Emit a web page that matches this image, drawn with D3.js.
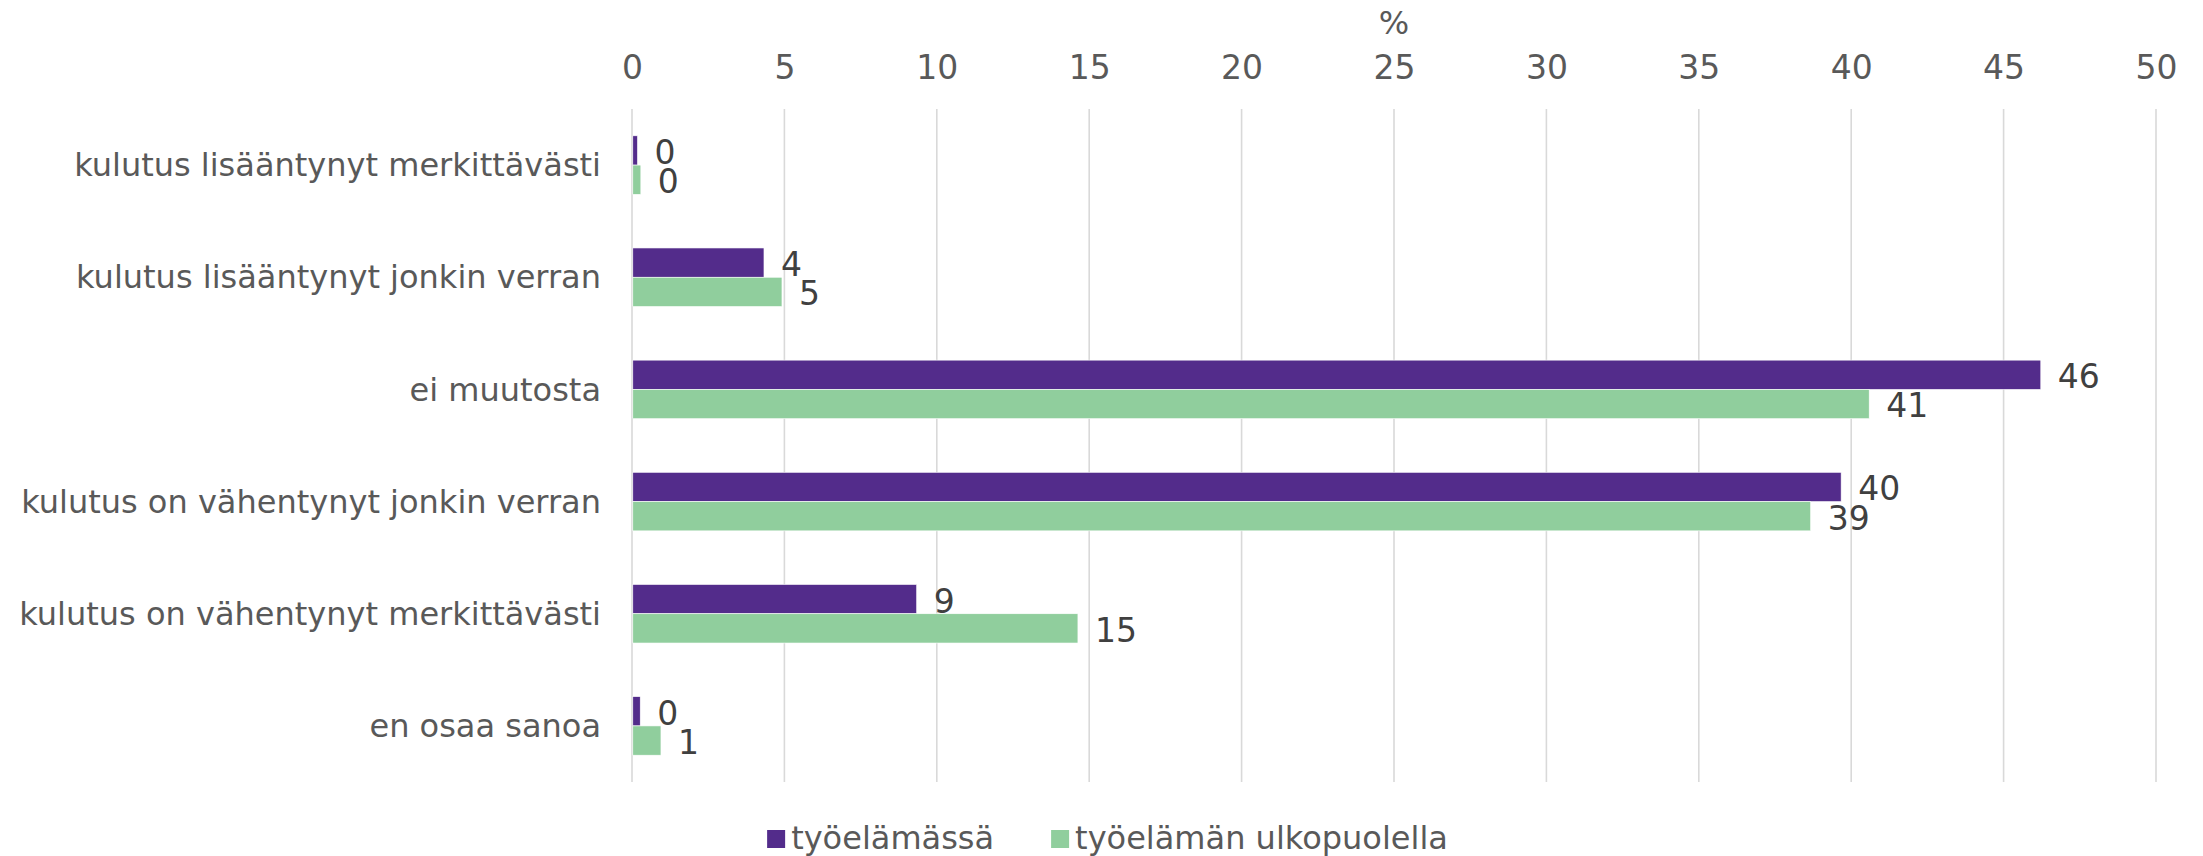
<!DOCTYPE html>
<html>
<head>
<meta charset="utf-8">
<script src="https://cdn.jsdelivr.net/npm/d3@7"></script>
<style>
    body { margin: 0; background: #fff; }
    text { font-family: "DejaVu Sans", Verdana, sans-serif; }
</style>
</head>
<body>
<svg id="chartSVG"></svg>
<script>

// data
var categories = [
    "kulutus lisääntynyt merkittävästi",
    "kulutus lisääntynyt jonkin verran",
    "ei muutosta",
    "kulutus on vähentynyt jonkin verran",
    "kulutus on vähentynyt merkittävästi",
    "en osaa sanoa"
];
var seriesNames = ["työelämässä", "työelämän ulkopuolella"];
var tyoelamassa = [0.18, 4.33, 46.22, 39.67, 9.34, 0.27];
var ulkopuolella = [0.29, 4.92, 40.59, 38.67, 14.63, 0.95];
var xTicks = [0, 5, 10, 15, 20, 25, 30, 35, 40, 45, 50];
var axisTitle = "%";

var colors = ["#532c8b", "#90ce9d"];

var width = 2203,
    height = 856;
var margin = { top: 109, right: 47, bottom: 74, left: 632 };

var svg = d3.select("#chartSVG")
    .attr("width", width)
    .attr("height", height);

var x = d3.scaleLinear()
    .domain([0, 50])
    .range([margin.left, width - margin.right]);

var y = d3.scaleBand()
    .domain(categories)
    .range([margin.top, height - margin.bottom])
    .paddingInner(0.478)
    .paddingOuter(0.239);

var ySub = d3.scaleBand()
    .domain(seriesNames)
    .range([0, y.bandwidth()]);

// gridlines
svg.append("g")
    .attr("class", "grid")
    .selectAll("line")
    .data(xTicks)
    .enter().append("line")
    .attr("x1", function (d) { return x(d); })
    .attr("x2", function (d) { return x(d); })
    .attr("y1", margin.top)
    .attr("y2", height - margin.bottom)
    .attr("stroke", "#d9d9d9")
    .attr("stroke-width", 1.6);

// top axis labels
var xAxis = svg.append("g")
    .attr("transform", "translate(0," + 79 + ")")
    .call(d3.axisTop(x).tickValues(xTicks).tickSize(0).tickPadding(0));
xAxis.select(".domain").remove();
xAxis.selectAll("text")
    .attr("font-family", "DejaVu Sans, Verdana, sans-serif")
    .attr("font-size", 33)
    .attr("fill", "#595959")
    .attr("dy", 0);

svg.append("text")
    .attr("x", (x(0) + x(50)) / 2)
    .attr("y", 34)
    .attr("text-anchor", "middle")
    .attr("font-size", 32)
    .attr("fill", "#595959")
    .text(axisTitle);

// category labels
svg.append("g")
    .selectAll("text")
    .data(categories)
    .enter().append("text")
    .attr("x", margin.left - 31)
    .attr("y", function (d) { return y(d) + y.bandwidth() / 2; })
    .attr("dy", "0.35em")
    .attr("text-anchor", "end")
    .attr("font-size", 32)
    .attr("fill", "#595959")
    .text(function (d) { return d; });

// bars
var rows = categories.map(function (c, i) {
    return [
        { cat: c, series: seriesNames[0], value: tyoelamassa[i], color: colors[0] },
        { cat: c, series: seriesNames[1], value: ulkopuolella[i], color: colors[1] }
    ];
});

var group = svg.append("g")
    .attr("class", "bars")
    .selectAll("g")
    .data(rows)
    .enter().append("g")
    .attr("transform", function (d) { return "translate(0," + y(d[0].cat) + ")"; });

group.selectAll("rect")
    .data(function (d) { return d; })
    .enter().append("rect")
    .attr("x", x(0) + 0.8)
    .attr("y", function (d) { return ySub(d.series); })
    .attr("width", function (d) { return Math.max(0, x(d.value) - x(0) - 0.8); })
    .attr("height", ySub.bandwidth())
    .attr("fill", function (d) { return d.color; })
    .attr("stroke", "#ffffff")
    .attr("stroke-width", 0.6);

group.selectAll("text")
    .data(function (d) { return d; })
    .enter().append("text")
    .attr("x", function (d) { return x(d.value) + 17; })
    .attr("y", function (d) { return ySub(d.series) + ySub.bandwidth() / 2 + 1.5; })
    .attr("dy", "0.36em")
    .attr("font-size", 33)
    .attr("fill", "#404040")
    .text(function (d) { return d3.format(".0f")(d.value); });

// legend
var legend = svg.append("g").attr("class", "legend");
var items = legend.selectAll("g")
    .data(seriesNames)
    .enter().append("g");

items.append("rect")
    .attr("width", 18)
    .attr("height", 18)
    .attr("y", 830)
    .attr("fill", function (d, i) { return colors[i]; });

items.append("text")
    .attr("x", 24)
    .attr("y", 849)
    .attr("font-size", 32)
    .attr("fill", "#595959")
    .text(function (d) { return d; });

var offset = 0;
var offsets = [];
items.each(function () {
    offsets.push(offset);
    offset += 24 + d3.select(this).select("text").node().getComputedTextLength() + 57;
});
var total = offset - 57;
var startX = width / 2 - total / 2 + 6;
items.attr("transform", function (d, i) { return "translate(" + (startX + offsets[i]) + ",0)"; });

</script>
</body>
</html>
